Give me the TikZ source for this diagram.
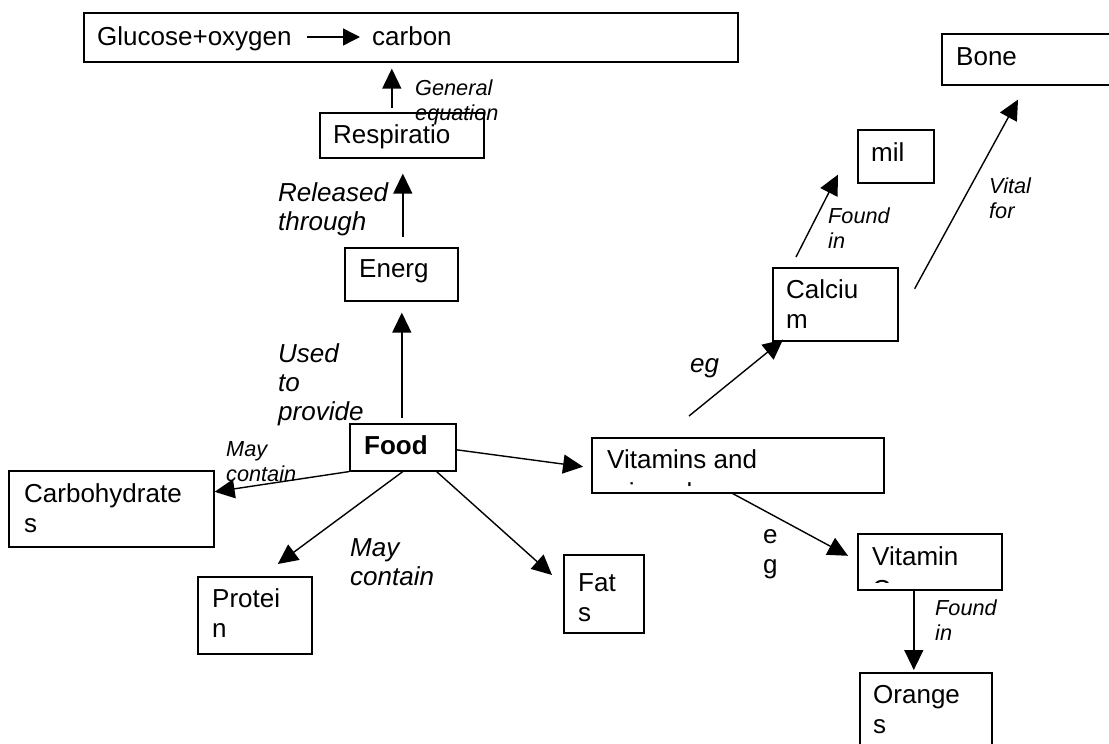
\documentclass[tikz,border=0pt]{standalone}
\usepackage{fontspec}
\setmainfont{Liberation Sans}
\usetikzlibrary{arrows.meta}

% stacked lines whose baseline is that of the first line
\newcommand\twoln[2]{\vtop{\hbox{#1}\hbox{#2}}}
\newcommand\threeln[3]{\vtop{\hbox{#1}\hbox{#2}\hbox{#3}}}

\begin{document}
\begin{tikzpicture}[x=1pt,y=-1pt,
  box/.style={draw, line width=1.6pt, inner sep=0pt, anchor=north west},
  txt/.style={inner sep=0pt, anchor=base west, font=\fontsize{26}{30}\selectfont},
  lab/.style={inner sep=0pt, anchor=base west, font=\fontsize{26}{29}\selectfont\itshape},
  slab/.style={inner sep=0pt, anchor=base west, font=\fontsize{21.7}{25.5}\selectfont\itshape},
  arr/.style={line width=1.4pt, -{Triangle[length=20pt,width=19pt]}}]

\fill[white] (0,0) rectangle (1109,744);
\useasboundingbox (0,0) rectangle (1109,744);

% ---- boxes ----
\node[box, minimum width=654pt, minimum height=49pt] (eqn)   at (83,12)  {};
\node[box, minimum width=164pt, minimum height=45pt] (resp)  at (319,112) {};
\node[box, minimum width=113pt, minimum height=53pt] (energ) at (344,247) {};
\node[box, minimum width=106pt, minimum height=47pt] (food)  at (349,423) {};
\node[box, minimum width=205pt, minimum height=76pt] (carb)  at (8,470)   {};
\node[box, minimum width=114pt, minimum height=77pt] (prot)  at (197,576) {};
\node[box, minimum width=80pt,  minimum height=78pt] (fats)  at (563,554) {};
\node[box, minimum width=292pt, minimum height=55pt] (vit)   at (591,437) {};
\node[box, minimum width=144pt, minimum height=56pt] (vitc)  at (857,533) {};
\node[box, minimum width=132pt, minimum height=80pt] (orng)  at (859,672) {};
\node[box, minimum width=125pt, minimum height=73pt] (calc)  at (772,267) {};
\node[box, minimum width=76pt,  minimum height=53pt] (milk)  at (857,129) {};
\node[box, minimum width=180pt, minimum height=51pt] (bone)  at (941,33)  {};

% ---- box texts ----
\node[txt] (glu)    at (97,45.5) {Glucose+oxygen};
\node[txt] (carbon) at (372,45.5) {carbon};
\node[txt] (resp-t)  at (333,143) {Respiratio};
\node[txt] (energ-t) at (359,277) {Energ};
\node[txt, font=\fontsize{26}{30}\selectfont\bfseries] (food-t) at (364,454) {Food};
\node[txt] (carb-t)  at (24,502)  {\twoln{Carbohydrate}{s}};
\node[txt] (prot-t)  at (212,607) {\twoln{Protei}{n}};
\node[txt] (fats-t)  at (578,591) {\twoln{Fat}{s}};
\node[txt] (vit-t)   at (607,468) {Vitamins and};
% second lines cut off by the lower edge of their boxes
\begin{scope}
  \clip (591,437) rectangle (883,485.5);
  \node[txt] (vit-t2) at (607,501.5) {minerals};
\end{scope}
\node[txt] (vitc-t)  at (872,565) {Vitamin};
\begin{scope}
  \clip (857,533) rectangle (1001,582);
  \node[txt] (vitc-t2) at (872,598.5) {C};
\end{scope}
\node[txt] (orng-t)  at (873,703) {\twoln{Orange}{s}};
\node[txt] (calc-t)  at (786,298) {\twoln{Calciu}{m}};
\node[txt] (milk-t)  at (871,161) {mil};
\node[txt] (bone-t)  at (956,65)  {Bone};

% ---- connectors ----
\draw[line width=1.4pt, -{Triangle[length=17pt,width=17pt]}, shorten <=15pt, shorten >=12pt]
  ([yshift=8.5pt]glu.base east) -- ([yshift=8.5pt]carbon.base west);
\draw[arr, shorten <=4pt, shorten >=6pt]
  ([xshift=-10pt]resp.north) -- ([xshift=-10pt]resp.north |- eqn.south);
\draw[arr, shorten <=10pt, shorten >=15pt]
  ([xshift=1.5pt]energ.north) -- ([xshift=1.5pt]energ.north |- resp.south);
\draw[arr, shorten <=5pt, shorten >=11pt]
  ([xshift=-1pt]food.north) -- ([xshift=-1pt]food.north |- energ.south);
\draw[arr] (food.south west) -- ([yshift=17pt]carb.east);
\draw[arr] (food.south) -- ([xshift=23pt,yshift=12pt]prot.north);
\draw[arr] ([xshift=-20pt]food.south east) -- ([xshift=-11pt,yshift=-21pt]fats.north west);
\draw[arr, shorten >=8pt] ([yshift=-2.5pt]food.east) -- ([yshift=-2.5pt]vit.west);
\draw[arr] ([xshift=98pt,yshift=21pt]vit.north west) -- ([xshift=11pt,yshift=2pt]calc.south west);
\draw[arr] ([xshift=-5pt]vit.south) -- ([xshift=-9pt,yshift=6pt]vitc.west);
\draw[arr, shorten >=2pt]
  ([xshift=-16pt,yshift=2pt]vitc.south) -- ([xshift=-16pt]vitc.south |- orng.north);
\draw[arr] ([xshift=24pt,yshift=10pt]calc.north west) -- ([xshift=-19pt,yshift=9pt]milk.south west);
\draw[arr] ([xshift=16pt,yshift=15.5pt]calc.east) -- ([xshift=77pt,yshift=-14pt]bone.south west);

% ---- connector labels ----
\node[slab] (l-gen)  at (415,95)  {\twoln{General}{equation}};
\node[lab]  (l-rel)  at (278,201) {\twoln{Released}{through}};
\node[lab]  (l-used) at (278,362) {\threeln{Used}{to}{provide}};
\node[slab] (l-may1) at (226,456) {\twoln{May}{contain}};
\node[lab]  (l-may2) at (350,556) {\twoln{May}{contain}};
\node[lab]  (l-eg1)  at (690,372) {eg};
\node[txt]  (l-eg2)  at (763,543) {\twoln{e}{g}};
\node[slab] (l-fnd1) at (828,223) {\twoln{Found}{in}};
\node[slab] (l-vit)  at (989,193) {\twoln{Vital}{for}};
\node[slab] (l-fnd2) at (935,615) {\twoln{Found}{in}};
\end{tikzpicture}
\end{document}
